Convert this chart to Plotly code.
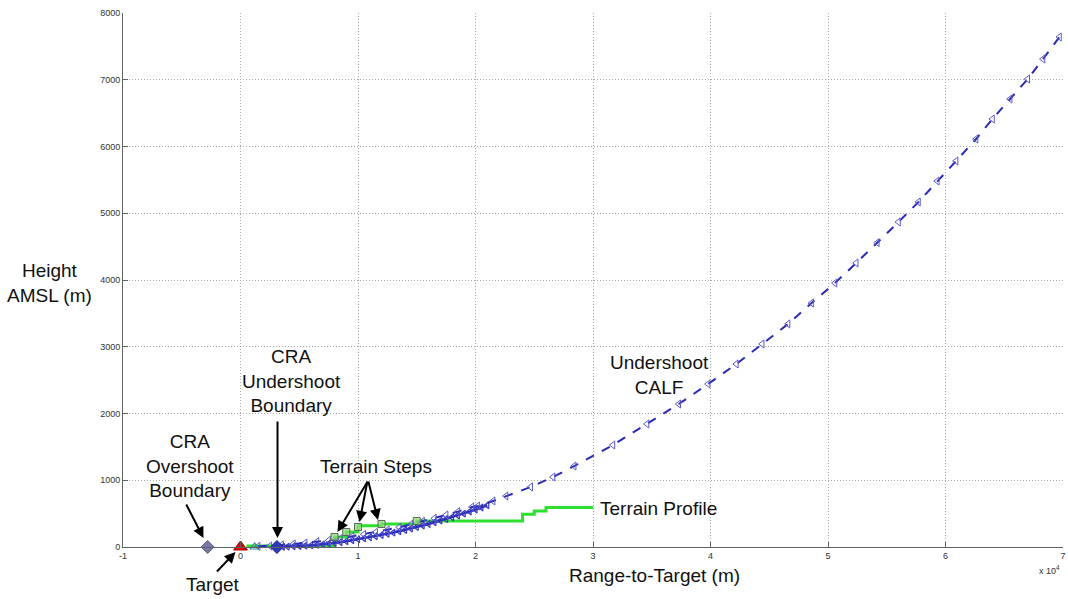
import plotly.graph_objects as go

# Undershoot CALF (dashed, triangle markers) - metres
calf_x = [1500, 2500, 3500, 4500, 5500, 6500, 7500, 8500, 9500, 10500, 11500, 12500,
          13500, 14500, 15500, 16500, 17500, 18500, 19700, 20200, 21500, 22600, 24700,
          26600, 28400, 31700, 34600, 37300, 39800, 42200, 44400, 46600, 48600, 50600,
          52400, 54200, 56000, 57700, 59300, 60900, 62600, 64000, 65500, 67000, 68300, 69700]
calf_y = [10, 15, 30, 45, 60, 80, 100, 125, 160, 190, 220, 255,
          295, 340, 385, 430, 480, 530, 599, 614, 689, 764, 899,
          1049, 1213, 1528, 1843, 2142, 2442, 2742, 3041, 3341, 3655, 3955,
          4255, 4560, 4869, 5169, 5483, 5783, 6112, 6412, 6712, 7011, 7311, 7640]

# CRA trajectory band (dense solid blue)
cra_x = [3100, 3600, 4000, 4500, 5000, 5500, 6000, 6500, 7000, 7500, 8000, 8500, 9000,
         9500, 10000, 10500, 11000, 11500, 12000, 12500, 13000, 13500, 14000, 14500,
         15000, 15500, 16000, 16500, 17000, 17500, 18000, 18500, 19000, 19500, 20000,
         20500, 21000]
cra_y = [0, 3, 5, 10, 15, 20, 25, 32, 40, 50, 60, 72, 85,
         100, 115, 130, 145, 162, 180, 197, 215, 235, 255, 278,
         300, 322, 345, 370, 395, 420, 445, 472, 500, 530, 560,
         592, 625]

# Terrain profile (step)
terrain_x = [500, 8000, 9000, 10000, 12000, 15000, 24000, 25000, 26000, 30000]
terrain_y = [15, 150, 225, 320, 345, 390, 490, 540, 590, 590]

# Terrain step markers
steps_x = [8000, 9000, 10000, 12000, 15000]
steps_y = [150, 225, 300, 345, 390]

# Point markers
overshoot_x, overshoot_y = [-2800], [0]
target_x, target_y = [0], [0]
calf_start_x, calf_start_y = [1200], [0]
undershoot_x, undershoot_y = [3100], [0]

xtick_vals = [-10000, 0, 10000, 20000, 30000, 40000, 50000, 60000, 70000]
xtick_text = ["-1", "0", "1", "2", "3", "4", "5", "6", "7"]
ytick_vals = [0, 1000, 2000, 3000, 4000, 5000, 6000, 7000, 8000]
ytick_text = ["0", "1000", "2000", "3000", "4000", "5000", "6000", "7000", "8000"]

Y_MAX = 8000
BLUE = "#2a2ab4"
FONT = "Liberation Sans, Arial, sans-serif"

fig = go.Figure()

fig.add_trace(go.Scatter(x=terrain_x, y=terrain_y, mode="lines", line_shape="hv",
                         line=dict(color="#2ee02e", width=3), hoverinfo="skip"))
fig.add_trace(go.Scatter(x=cra_x, y=cra_y, mode="lines+markers",
                         line=dict(color=BLUE, width=2.5),
                         marker=dict(symbol="triangle-left-open", size=6, color="#3a3ac4",
                                     line=dict(width=1.2))))
fig.add_trace(go.Scatter(x=calf_x, y=calf_y, mode="lines+markers",
                         line=dict(color=BLUE, width=2, dash="dash"),
                         marker=dict(symbol="triangle-left-open", size=7, color="#5a5acc",
                                     line=dict(width=1))))
fig.add_trace(go.Scatter(x=steps_x, y=steps_y, mode="markers",
                         marker=dict(symbol="square", size=7, color="rgba(150,215,130,0.7)",
                                     line=dict(color="#5a6a5a", width=1))))
fig.add_trace(go.Scatter(x=overshoot_x, y=overshoot_y, mode="markers",
                         marker=dict(symbol="diamond", size=10, color="#7a78a8",
                                     line=dict(color="#5a5a8a", width=1))))
fig.add_trace(go.Scatter(x=calf_start_x, y=calf_start_y, mode="markers",
                         marker=dict(symbol="triangle-up-open", size=8, color="#3a82a8",
                                     line=dict(width=1.2))))
fig.add_trace(go.Scatter(x=undershoot_x, y=undershoot_y, mode="markers",
                         marker=dict(symbol="diamond", size=10, color="#2a3ab8",
                                     line=dict(color="#20208a", width=1))))
fig.add_trace(go.Scatter(x=target_x, y=target_y, mode="markers",
                         marker=dict(symbol="triangle-up", size=12, color="#e00000",
                                     line=dict(color="#a00000", width=1))))
fig.update_traces(cliponaxis=False)

ann_font = dict(family=FONT, size=19, color="#111")
anns = []

def text(x, y, t, xanchor="center", below=False, **kw):
    a = dict(x=x, y=y, text=t, showarrow=False, font=ann_font,
             xanchor=xanchor, yanchor="middle", **kw)
    if below:  # positions below the axis must use paper y so they are not hidden
        a["yref"] = "paper"
        a["y"] = y / Y_MAX
    anns.append(a)

def arrow(x, y, ax, ay, below=False):
    a = dict(x=x, y=y, ax=ax, ay=ay, text="", showarrow=True,
             arrowhead=2, arrowsize=1.1, arrowwidth=2, arrowcolor="#000")
    if below:
        a["yref"] = "paper"
        a["y"] = y / Y_MAX
    anns.append(a)

text(-4340, 1213, "CRA<br>Overshoot<br>Boundary")
arrow(-3150, 135, -18, -35)
text(-2383, -569, "Target", below=True)
arrow(-425, -75, -20, 21, below=True)
text(4340, 2487, "CRA<br>Undershoot<br>Boundary")
arrow(3150, 135, 0, -118)
text(11574, 1213, "Terrain Steps")
arrow(8255, 225, 31, -52)
arrow(10128, 375, 8, -41)
arrow(11700, 405, -10, -40)
text(30383, 584, "Terrain Profile", xanchor="left")
text(35660, 2577, "Undershoot<br>CALF")
text(35234, -434, "Range-to-Target (m)", below=True)
anns.append(dict(xref="paper", yref="paper", x=-0.0777, y=0.494, text="Height<br>AMSL (m)",
                 showarrow=False, font=ann_font, xanchor="center", yanchor="middle"))
anns.append(dict(xref="paper", yref="paper", x=0.9985, y=-345 / Y_MAX, text="x 10<sup>4</sup>",
                 showarrow=False, font=dict(family=FONT, size=9, color="#333"),
                 xanchor="right", yanchor="middle"))

axis_common = dict(showgrid=True, gridcolor="#a8a8a8", griddash="1px,2px", gridwidth=1,
                   showline=True, linecolor="#606060", linewidth=1, zeroline=False,
                   ticks="inside", ticklen=5, tickcolor="#606060", automargin=False,
                   ticklabeloverflow="allow",
                   tickfont=dict(family=FONT, size=9, color="#333"))

fig.update_layout(
    width=1068, height=599,
    margin=dict(l=123, r=5, t=13, b=52),
    paper_bgcolor="white", plot_bgcolor="white",
    showlegend=False,
    annotations=anns,
    xaxis=dict(range=[-10000, 70000], tickvals=xtick_vals, ticktext=xtick_text, **axis_common),
    yaxis=dict(range=[0, Y_MAX], tickvals=ytick_vals, ticktext=ytick_text, **axis_common),
)

# remove the default 8px page margin so the figure sits at the window's top-left corner
fig.write_html("out.html", config={"displayModeBar": False},
               post_script="document.body.style.margin='0';document.body.style.overflow='hidden';")
